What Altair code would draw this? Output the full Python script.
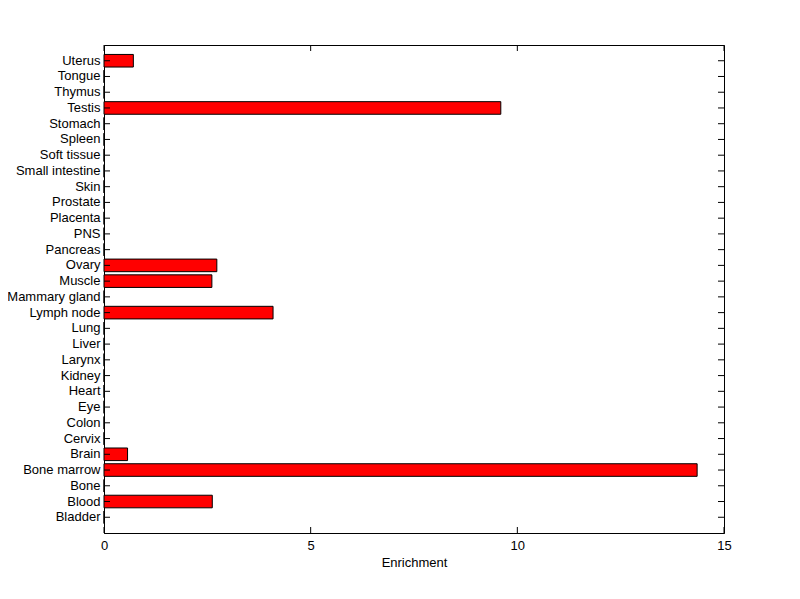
import altair as alt
import pandas as pd

tissues = ["Bladder", "Blood", "Bone", "Bone marrow", "Brain", "Cervix", "Colon",
           "Eye", "Heart", "Kidney", "Larynx", "Liver", "Lung", "Lymph node",
           "Mammary gland", "Muscle", "Ovary", "Pancreas", "PNS", "Placenta",
           "Prostate", "Skin", "Small intestine", "Soft tissue", "Spleen",
           "Stomach", "Testis", "Thymus", "Tongue", "Uterus"]
enrichment = [0, 2.62, 0, 14.35, 0.57, 0, 0, 0, 0, 0, 0, 0, 0, 4.09, 0, 2.61,
              2.73, 0, 0, 0, 0, 0, 0, 0, 0, 0, 9.60, 0, 0, 0.71]
x_ticks = [0, 5, 10, 15]

df = pd.DataFrame({"tissue": tissues, "value": enrichment})
tick_df = pd.DataFrame({"t": x_ticks})

W, H = 620, 488
TL = 6
FONT = "Liberation Sans"

order = tissues[::-1]
yscale = alt.Scale(domain=order, paddingInner=0.2, paddingOuter=0.6)
xscale = alt.Scale(domain=[0, 15], nice=False, zero=True)

xaxis = alt.Axis(values=x_ticks, ticks=False, grid=False, domain=True,
                 domainColor="black", labelPadding=6, labelFont=FONT,
                 labelFontSize=13, labelColor="black", title="Enrichment",
                 titleFont=FONT, titleFontSize=13, titleFontWeight="normal",
                 titleColor="black", titlePadding=4, labelFlush=False)
yaxis = alt.Axis(ticks=False, grid=False, domain=True, domainColor="black",
                 labelPadding=4, labelFont=FONT, labelFontSize=13,
                 labelColor="black", title=None)

bars = alt.Chart(df).mark_bar(color="#ff0000", stroke="black", strokeWidth=1).encode(
    x=alt.X("value:Q", scale=xscale, axis=xaxis),
    y=alt.Y("tissue:N", sort=order, scale=yscale, axis=yaxis),
)

left_ticks = alt.Chart(df).mark_rule(color="black", strokeWidth=1).encode(
    y=alt.Y("tissue:N", sort=order, scale=yscale, bandPosition=0.5, axis=yaxis),
    x=alt.value(0), x2=alt.value(TL),
)
right_ticks = alt.Chart(df).mark_rule(color="black", strokeWidth=1).encode(
    y=alt.Y("tissue:N", sort=order, scale=yscale, bandPosition=0.5, axis=yaxis),
    x=alt.value(W - TL), x2=alt.value(W),
)
bottom_ticks = alt.Chart(tick_df).mark_rule(color="black", strokeWidth=1).encode(
    x=alt.X("t:Q", scale=xscale, axis=xaxis),
    y=alt.value(H - TL), y2=alt.value(H),
)
top_ticks = alt.Chart(tick_df).mark_rule(color="black", strokeWidth=1).encode(
    x=alt.X("t:Q", scale=xscale, axis=xaxis),
    y=alt.value(0), y2=alt.value(TL),
)

chart = alt.layer(bars, left_ticks, right_ticks, bottom_ticks, top_ticks).properties(
    width=W, height=H,
    autosize=alt.AutoSizeParams(type="none"),
    padding={"left": 96, "top": 37, "right": 60, "bottom": 50},
    background="white",
).configure_view(stroke="black", strokeWidth=1)

chart.save("out.html", embed_options={"renderer": "svg", "actions": False})
